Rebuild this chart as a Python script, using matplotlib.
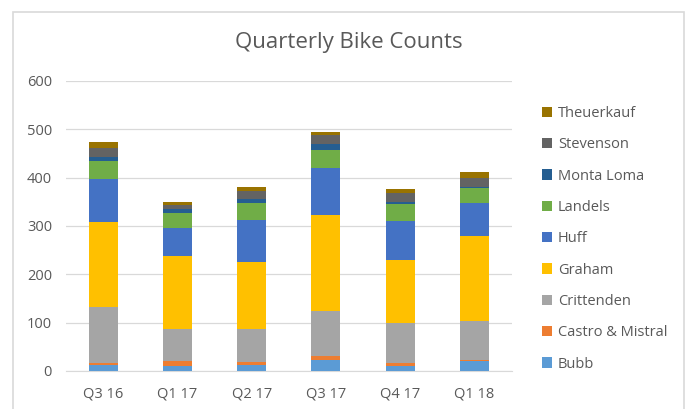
import matplotlib
import matplotlib.pyplot as plt
import numpy as np

matplotlib.use("Agg")

quarters = ["Q3 16", "Q1 17", "Q2 17", "Q3 17", "Q4 17", "Q1 18"]
sites = ["Bubb", "Castro & Mistral", "Crittenden", "Graham", "Huff",
         "Landels", "Monta Loma", "Stevenson", "Theuerkauf"]

bubb = [12, 11, 12, 22, 11, 21]
castro = [4, 9, 6, 8, 5, 2]
crittenden = [116, 67, 69, 94, 83, 81]
graham = [177, 150, 139, 199, 131, 176]
huff = [88, 58, 86, 96, 80, 68]
landels = [38, 32, 36, 39, 35, 30]
monta_loma = [7, 8, 7, 12, 4, 3]
stevenson = [20, 9, 17, 18, 19, 19]
theuerkauf = [11, 5, 8, 7, 9, 11]

series = [bubb, castro, crittenden, graham, huff, landels, monta_loma, stevenson, theuerkauf]
colors = ["#5B9BD5", "#ED7D31", "#A5A5A5", "#FFC000", "#4472C4",
          "#70AD47", "#255E91", "#636363", "#997300"]

plt.rcParams["font.family"] = ["Open Sans", "DejaVu Sans"]
TXT = "#595959"

fig = plt.figure(figsize=(6.86, 4.09), dpi=100)
ax = fig.add_axes([0.096, 0.093, 0.650, 0.709])

x = np.arange(len(quarters))
bottom = np.zeros(len(quarters))
handles = []
for name, vals, col in zip(sites, series, colors):
    b = ax.bar(x, vals, width=0.39, bottom=bottom, color=col, label=name, zorder=3)
    handles.append(b)
    bottom += np.array(vals)

ax.set_xlim(-0.5, len(quarters) - 0.5)
ax.set_ylim(0, 600)
ax.set_yticks(range(0, 601, 100))
ax.set_xticks(x)
ax.set_xticklabels(quarters)
ax.tick_params(axis="both", length=0, colors=TXT, labelsize=10.5)
ax.tick_params(axis="y", pad=10)
ax.tick_params(axis="x", pad=11)
ax.grid(axis="y", color="#D9D9D9", lw=0.9, zorder=0)
for s in ["top", "right", "left"]:
    ax.spines[s].set_visible(False)
ax.spines["bottom"].set_color("#D9D9D9")

fig.text(0.508, 0.895, "Quarterly Bike Counts", ha="center", va="center",
         fontsize=16, color=TXT)

leg = fig.legend(handles=handles[::-1], labels=sites[::-1],
                 loc="center left", bbox_to_anchor=(0.771, 0.416),
                 frameon=False, fontsize=10.5, labelcolor=TXT,
                 handlelength=0.7, handleheight=0.7, handletextpad=0.4,
                 labelspacing=1.12)

# chart border
border = plt.Rectangle((13 / 686, -0.05), (684 - 13) / 686, 1.05 - 12 / 409,
                       transform=fig.transFigure, fill=False,
                       edgecolor="#D9D9D9", lw=1.2)
fig.add_artist(border)

fig.savefig("out.png", dpi=100)
